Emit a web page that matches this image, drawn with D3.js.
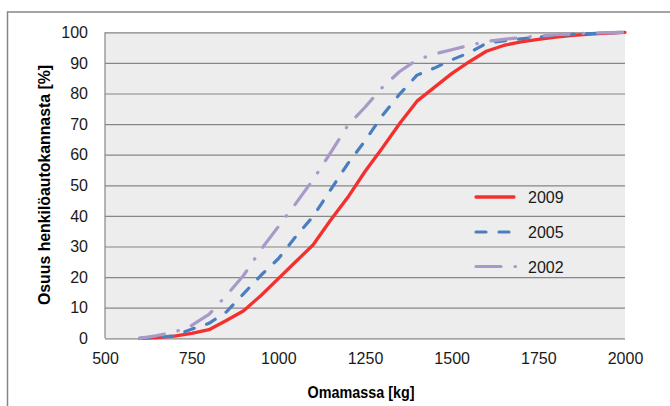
<!DOCTYPE html>
<html>
<head>
<meta charset="utf-8">
<script src="https://cdn.jsdelivr.net/npm/d3@7"></script>
<style>
  body { margin: 0; background: #fff; }
  text { font-family: "Liberation Sans", Arial, sans-serif; }
</style>
</head>
<body>
<script>
// omamassa (kg) and cumulative share of the car fleet (%)
const weights = [600, 650, 700, 750, 800, 850, 900, 950, 1000, 1050, 1100, 1150, 1200, 1250, 1300,
  1350, 1400, 1450, 1500, 1550, 1600, 1650, 1700, 1750, 1800, 1850, 1900, 1950, 2000];
const share2009 = [0, 0.2, 0.7, 1.6, 2.8, 5.8, 9, 14, 19.5, 25, 30.5, 38.5, 46, 54.5, 62.2,
  70.2, 77.5, 82, 86.5, 90.3, 93.8, 95.7, 96.9, 97.7, 98.4, 99, 99.4, 99.7, 100];
const share2005 = [0, 0.3, 0.8, 3, 4.9, 8.6, 14.6, 20.6, 26, 33.2, 39.8, 48.4, 57, 64.5, 72.8,
  79.8, 86, 88.3, 91, 93.3, 96.4, 97.2, 97.9, 98.4, 98.9, 99.3, 99.6, 99.8, 100];
const share2002 = [0, 0.9, 2, 4.2, 7.8, 14, 20.6, 29, 36.5, 44, 51.8, 60.5, 69.5, 75.5, 82,
  87.2, 91, 92.9, 94.3, 95.7, 97, 97.7, 98.3, 98.8, 99.2, 99.5, 99.7, 99.9, 100];
const seriesNames = ["2009", "2005", "2002"];
const xTicks = [500, 750, 1000, 1250, 1500, 1750, 2000];
const yTicks = [0, 10, 20, 30, 40, 50, 60, 70, 80, 90, 100];

const W = 670, H = 406;
const plot = { left: 105, right: 625, top: 32.3, bottom: 338.3 };

const svg = d3.select("body").append("svg")
  .attr("width", W)
  .attr("height", H);

// outer chart frame (cut off at right and bottom)
svg.append("rect")
  .attr("x", 7.5).attr("y", 12)
  .attr("width", 700).attr("height", 420)
  .attr("fill", "#fff")
  .attr("stroke", "#868686")
  .attr("stroke-width", 1.5);

var xScale = d3.scaleLinear().domain([500, 2000]).range([plot.left, plot.right]);
var yScale = d3.scaleLinear().domain([0, 100]).range([plot.bottom, plot.top]);

// plot area
svg.append("rect")
  .attr("x", plot.left).attr("y", plot.top)
  .attr("width", plot.right - plot.left)
  .attr("height", plot.bottom - plot.top)
  .attr("fill", "#ECEDEC");

// horizontal grid
const yGrid = d3.axisLeft(yScale)
  .tickValues(yTicks)
  .tickSize(-(plot.right - plot.left))
  .tickFormat("");
const gGrid = svg.append("g")
  .attr("transform", "translate(" + plot.left + ",0)")
  .call(yGrid);
gGrid.select(".domain").remove();
gGrid.selectAll("line").attr("stroke", "#868686").attr("stroke-width", 1.2);

// left axis line
svg.append("line")
  .attr("x1", plot.left).attr("x2", plot.left)
  .attr("y1", plot.top).attr("y2", plot.bottom)
  .attr("stroke", "#868686").attr("stroke-width", 1.2);

// y tick labels
const yAxis = d3.axisLeft(yScale).tickValues(yTicks).tickSize(0).tickPadding(17);
const gy = svg.append("g").attr("transform", "translate(" + plot.left + ",0)").call(yAxis);
gy.select(".domain").remove();
gy.selectAll("text")
  .attr("font-family", "Liberation Sans, Arial, sans-serif")
  .attr("font-size", 16)
  .attr("fill", "#1a1a1a");

// x tick labels
const xAxis = d3.axisBottom(xScale).tickValues(xTicks).tickSize(0).tickPadding(14).tickFormat(d3.format("d"));
const gx = svg.append("g").attr("transform", "translate(0," + plot.bottom + ")").call(xAxis);
gx.select(".domain").remove();
gx.selectAll("text")
  .attr("font-family", "Liberation Sans, Arial, sans-serif")
  .attr("font-size", 16)
  .attr("fill", "#1a1a1a");

// axis titles
svg.append("text")
  .attr("x", 361).attr("y", 398)
  .attr("text-anchor", "middle")
  .attr("font-size", 17)
  .attr("font-weight", "bold")
  .attr("textLength", 107)
  .attr("lengthAdjust", "spacingAndGlyphs")
  .text("Omamassa [kg]");

svg.append("text")
  .attr("transform", "translate(50,185) rotate(-90)")
  .attr("text-anchor", "middle")
  .attr("font-size", 17)
  .attr("font-weight", "bold")
  .attr("textLength", 240)
  .attr("lengthAdjust", "spacingAndGlyphs")
  .text("Osuus henkilöautokannasta [%]");

// series styles
const styles = [
  { values: share2009, color: "#F4302E", width: 3.3, dash: null },
  { values: share2005, color: "#4A7EC0", width: 3.2, dash: "10,13" },
  { values: share2002, color: "#A999C8", width: 3.2, dash: "25,14,0.5,14" }
];

const line = d3.line()
  .x((d, i) => xScale(weights[i]))
  .y(d => yScale(d));

styles.forEach(function(s) {
  svg.append("path")
    .datum(s.values)
    .attr("d", line)
    .attr("fill", "none")
    .attr("stroke", s.color)
    .attr("stroke-width", s.width)
    .attr("stroke-linecap", "round")
    .attr("stroke-linejoin", "round")
    .attr("stroke-dasharray", s.dash);
});

// legend inside the plot
const legendY = [197, 232, 266.5];
styles.forEach(function(s, i) {
  svg.append("line")
    .attr("x1", 476).attr("x2", i == 2 ? 515.5 : 514)
    .attr("y1", legendY[i]).attr("y2", legendY[i])
    .attr("stroke", s.color)
    .attr("stroke-width", s.width)
    .attr("stroke-linecap", "round")
    .attr("stroke-dasharray", s.dash);
  svg.append("text")
    .attr("x", 528).attr("y", legendY[i] + 6)
    .attr("font-size", 16)
    .attr("fill", "#1a1a1a")
    .text(seriesNames[i]);
});
</script>
</body>
</html>
